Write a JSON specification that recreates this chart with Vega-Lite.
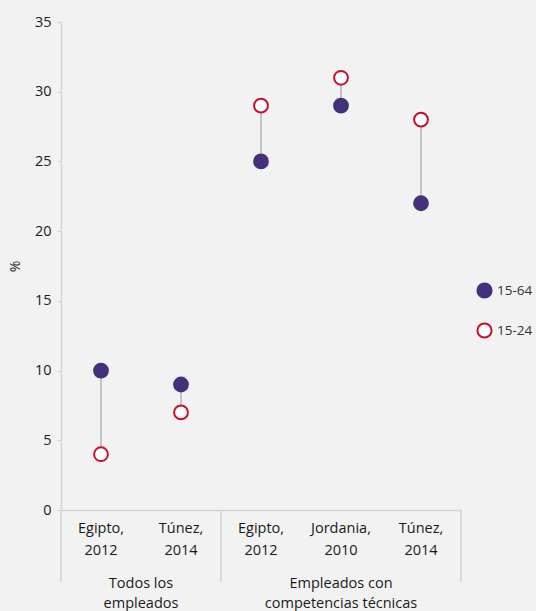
{
  "$schema": "https://vega.github.io/schema/vega-lite/v6.json",
  "autosize": {"type": "none"},
  "padding": {"left": 61, "top": 22, "right": 75, "bottom": 101},
  "width": 400,
  "height": 488,
  "background": "#f2f2f2",
  "config": {
    "view": {"stroke": null},
    "font": "Open Sans",
    "axis": {"grid": false, "labelFont": "Open Sans", "titleFont": "Open Sans"}
  },
  "data": {
    "values": [
      {"cat": "1|Egipto,|2012", "serie": "15-64", "valor": 10},
      {"cat": "1|Egipto,|2012", "serie": "15-24", "valor": 4},
      {"cat": "2|Túnez,|2014", "serie": "15-64", "valor": 9},
      {"cat": "2|Túnez,|2014", "serie": "15-24", "valor": 7},
      {"cat": "3|Egipto,|2012", "serie": "15-64", "valor": 25},
      {"cat": "3|Egipto,|2012", "serie": "15-24", "valor": 29},
      {"cat": "4|Jordania,|2010", "serie": "15-64", "valor": 29},
      {"cat": "4|Jordania,|2010", "serie": "15-24", "valor": 31},
      {"cat": "5|Túnez,|2014", "serie": "15-64", "valor": 22},
      {"cat": "5|Túnez,|2014", "serie": "15-24", "valor": 28}
    ]
  },
  "encoding": {
    "x": {
      "field": "cat",
      "type": "nominal",
      "sort": null,
      "scale": {"domain": ["1|Egipto,|2012", "2|Túnez,|2014", "3|Egipto,|2012", "4|Jordania,|2010", "5|Túnez,|2014"], "paddingInner": 0, "paddingOuter": 0},
      "axis": {
        "title": null,
        "labelExpr": "slice(split(datum.label, '|'), 1)",
        "labelAngle": 0,
        "labelFontSize": 14.5,
        "labelColor": "#1a1a1a",
        "labelLineHeight": 22,
        "labelPadding": 11,
        "ticks": false,
        "domainColor": "#d4d4d4",
        "domainWidth": 1.5
      }
    }
  },
  "layer": [
    {
      "mark": {"type": "rule", "color": "#d4d4d4", "strokeWidth": 1.5},
      "data": {"values": [{"cat": "1|Egipto,|2012"}, {"cat": "3|Egipto,|2012"}]},
      "encoding": {
        "x": {"field": "cat", "type": "nominal", "bandPosition": 0},
        "y": {"datum": 0},
        "y2": {"datum": -5.2}
      }
    },
    {
      "mark": {"type": "rule", "color": "#d4d4d4", "strokeWidth": 1.5},
      "data": {"values": [{"cat": "5|Túnez,|2014"}]},
      "encoding": {
        "x": {"field": "cat", "type": "nominal", "bandPosition": 1},
        "y": {"datum": 0},
        "y2": {"datum": -5.2}
      }
    },
    {
      "mark": {"type": "text", "lineBreak": "\n", "baseline": "top", "fontSize": 14.5, "color": "#1a1a1a", "lineHeight": 20},
      "data": {"values": [{"cat": "1|Egipto,|2012", "grupo": "Todos los\nempleados"}]},
      "encoding": {
        "x": {"field": "cat", "type": "nominal", "bandPosition": 1},
        "y": {"datum": -4.8},
        "text": {"field": "grupo"}
      }
    },
    {
      "mark": {"type": "text", "lineBreak": "\n", "baseline": "top", "fontSize": 14.5, "color": "#1a1a1a", "lineHeight": 20},
      "data": {"values": [{"cat": "4|Jordania,|2010", "grupo": "Empleados con\ncompetencias técnicas"}]},
      "encoding": {
        "x": {"field": "cat", "type": "nominal", "bandPosition": 0.5},
        "y": {"datum": -4.8},
        "text": {"field": "grupo"}
      }
    },
    {
      "mark": {"type": "rule", "color": "#c4c4c4", "strokeWidth": 2},
      "encoding": {
        "y": {"aggregate": "min", "field": "valor", "type": "quantitative"},
        "y2": {"aggregate": "max", "field": "valor"}
      }
    },
    {
      "mark": {"type": "point", "shape": "circle", "filled": false, "opacity": 1, "size": 190, "strokeWidth": 2},
      "encoding": {
        "y": {
          "field": "valor",
          "type": "quantitative",
          "scale": {"domain": [0, 35], "nice": false},
          "axis": {
            "title": "%",
            "titleFontSize": 14,
            "titleFontWeight": "normal",
            "titleColor": "#1a1a1a",
            "titlePadding": 12,
            "values": [0, 5, 10, 15, 20, 25, 30, 35],
            "labelFontSize": 14.5,
            "labelColor": "#1a1a1a",
            "labelPadding": 6,
            "tickSize": 4,
            "tickColor": "#d4d4d4",
            "domainColor": "#d4d4d4",
            "domainWidth": 1.5
          }
        },
        "fill": {
          "field": "serie",
          "type": "nominal",
          "scale": {"domain": ["15-64", "15-24"], "range": ["#45307c", "#ffffff"]},
          "legend": {
            "title": null,
            "orient": "none",
            "legendX": 415,
            "legendY": 260,
            "padding": 0,
            "symbolSize": 200,
            "symbolStrokeWidth": 2,
            "rowPadding": 17,
            "labelFontSize": 13.5,
            "labelColor": "#333333",
            "labelOffset": 4
          }
        },
        "stroke": {
          "field": "serie",
          "type": "nominal",
          "scale": {"domain": ["15-64", "15-24"], "range": ["#45307c", "#c8102e"]}
        }
      }
    }
  ]
}
